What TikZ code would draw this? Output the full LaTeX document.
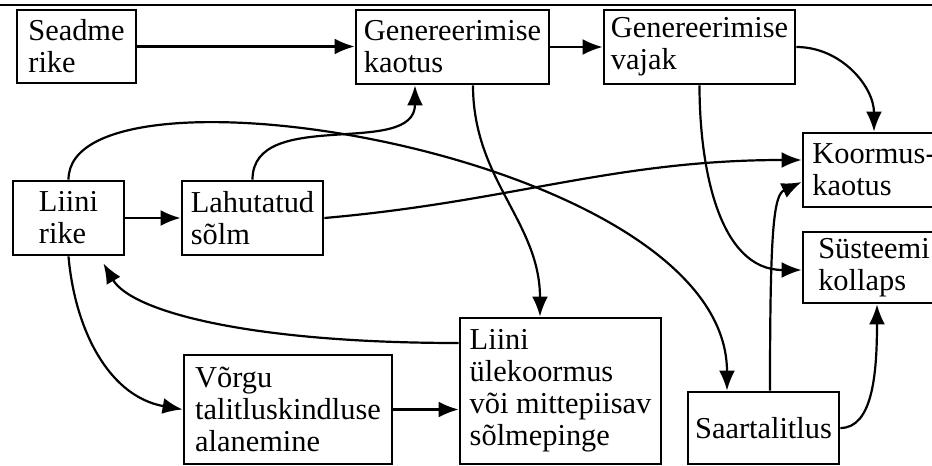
\documentclass[tikz,border=0pt]{standalone}
\usepackage{fontspec}
\setmainfont{Liberation Serif}
\usetikzlibrary{arrows.meta}
\tikzset{
  box/.style={draw, line width=1.4pt, align=left, inner sep=0pt, font=\fontsize{15.2}{16}\selectfont},
  arr/.style={line width=1.1pt, -{Latex[length=10pt,width=8pt]}}
}
\begin{document}
\begin{tikzpicture}[x=0.5pt,y=-0.5pt]
  %%%%% START %%%%%
  \useasboundingbox (0,0) rectangle (932,466);
  \draw[line width=0.6pt] (0,5) -- (932,5);

  \node[box, minimum width=59.5pt, minimum height=36.5pt] (seadme) at (76.5,46.5) {Seadme\\rike};
  \node[box, minimum width=96.5pt, minimum height=37pt] (genkaotus) at (452.5,47) {Genereerimise\\kaotus};
  \node[box, minimum width=95.5pt, minimum height=37pt] (genvajak) at (699.5,47) {Genereerimise\\vajak};
  \node[box, minimum width=71pt, minimum height=37pt] (koormus) at (874,170) {Koormus-\\kaotus};
  \node[box, minimum width=71pt, minimum height=35.5pt] (kollaps) at (874,267.5) {Süsteemi\\kollaps};

  \node[box, minimum width=55.5pt, minimum height=37pt] (liinirike) at (68.5,218) {Liini\\rike};
  \node[box, minimum width=70.5pt, minimum height=37pt] (lahutatud) at (252.5,218) {Lahutatud\\sõlm};
  \node[box, minimum width=104pt, minimum height=54.5pt] (vorgu) at (288,409.5) {Võrgu\\talitluskindluse\\alanemine};
  \node[box, minimum width=100.5pt, minimum height=73pt] (ylekoormus) at (560.5,391) {Liini\\ülekoormus\\või mittepiisav\\sõlmepinge};
  \node[box, minimum width=75.5pt, minimum height=36pt] (saar) at (763.5,428) {Saartalitlus};

  % ylemine rida
  \draw[arr] (seadme.east) -- (seadme.east -| genkaotus.west);
  \draw[arr] (genkaotus.east) -- (genvajak.west);
  \draw[arr] (genvajak.east) to[out=0,in=90] (koormus.north);

  % liini rike
  \draw[arr] (liinirike.east) -- (liinirike.east -| lahutatud.west);
  \draw[arr] (lahutatud.north) to[out=90,in=-90] ([xshift=-18.75pt]genkaotus.south);
  \draw[arr] (liinirike.north) .. controls +(0,-131) and +(0,-237) .. ([xshift=-18.25pt]saar.north);
  \draw[arr] (lahutatud.east) to[out=5,in=180] ([yshift=5pt]koormus.west);
  \draw[arr] (liinirike.south) to[out=-85,in=170] (vorgu.west);

  % keskmine osa
  \draw[arr] ([xshift=10.25pt]genkaotus.south) to[out=-90,in=90] ([xshift=-10.25pt]ylekoormus.north);
  \draw[arr] (genvajak.south) to[out=-90,in=180] ([yshift=-1.25pt]kollaps.west);
  \draw[arr] ([yshift=24pt]ylekoormus.west) .. controls +(-210,0) and +(28,48) .. ([xshift=-11pt,yshift=-3.5pt]liinirike.south east);
  \draw[arr] (vorgu.east) -- (vorgu.east -| ylekoormus.west);

  % saartalitlus
  \draw[arr] ([xshift=3.25pt]saar.north) .. controls +(0,-162) and +(-28,13) .. ([yshift=-6pt]koormus.west);
  \draw[arr] (saar.east) .. controls +(32,0) and +(0,70) .. ([xshift=1.5pt]kollaps.south);
  %%%%% END %%%%%
\end{tikzpicture}
\end{document}
